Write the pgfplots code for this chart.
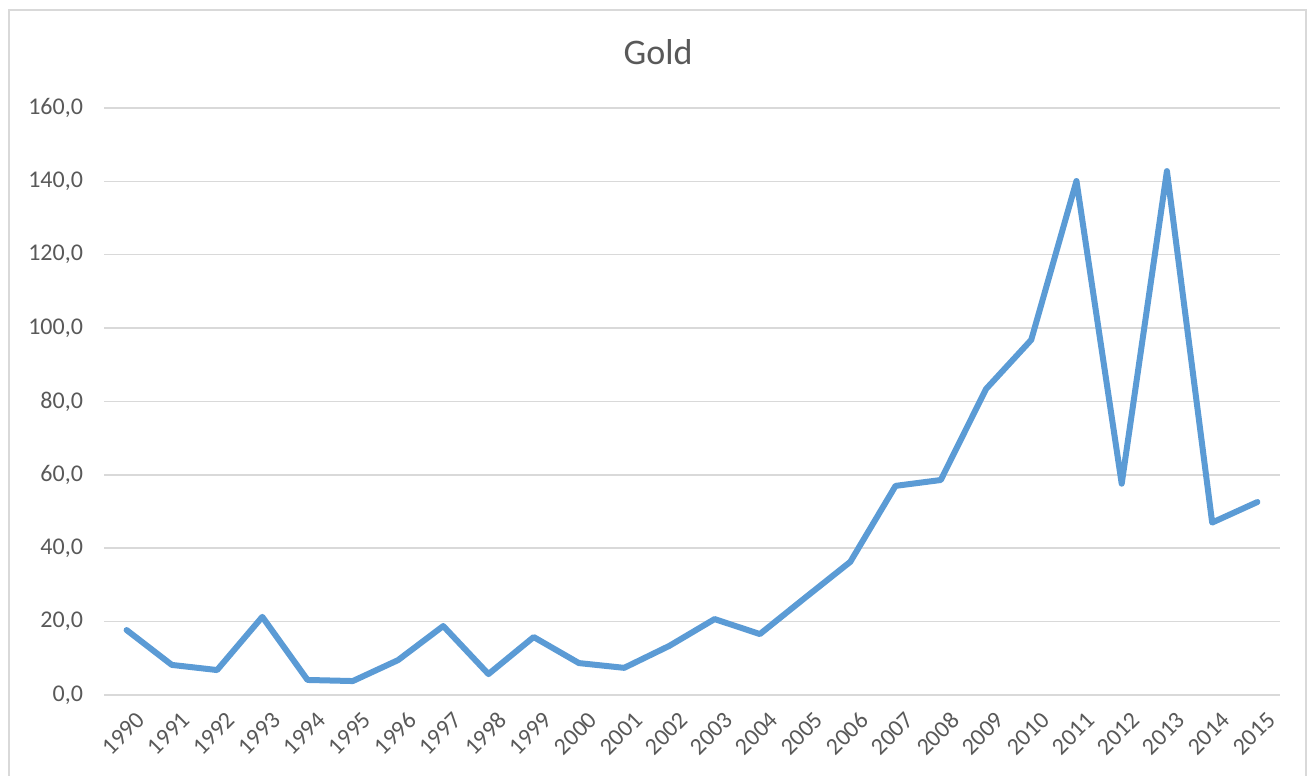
\documentclass[border=0pt]{standalone}
\usepackage{pgfplots}
\pgfplotsset{compat=1.18}
\usepackage{fontspec}
\setmainfont{Carlito}
\definecolor{goldline}{HTML}{5B9BD5}
\definecolor{gridgray}{HTML}{D9D9D9}
\definecolor{txtgray}{HTML}{595959}
\begin{document}
% page is 656pt x 388pt, i.e. 1px of the reference = 0.5pt
\begin{tikzpicture}
\useasboundingbox (0pt,0pt) rectangle (656pt,388pt);
\draw[gridgray,line width=1pt] (4.5pt,0pt) -- (4.5pt,383pt) -- (653pt,383pt) -- (653pt,0pt);
\node[txtgray,font=\fontsize{18}{20}\selectfont] at (329pt,362pt) {Gold};
\begin{axis}[
    at={(52pt,40.5pt)}, anchor=south west,
    scale only axis,
    width=588pt, height=293.5pt,
    xmin=1989.5, xmax=2015.5,
    ymin=0, ymax=160,
    xtick={1990,...,2015},
    ytick={0,20,...,160},
    ymajorgrids,
    grid style={gridgray,line width=0.75pt},
    axis line style={draw=none},
    tick style={draw=none},
    tick label style={txtgray,font=\fontsize{12}{14}\selectfont},
    /pgf/number format/assume math mode=true,
    xticklabel style={rotate=45,anchor=north east,yshift=-5pt,xshift=1pt,/pgf/number format/1000 sep={}},
    yticklabel style={xshift=-7pt,/pgf/number format/.cd,fixed,fixed zerofill,precision=1,use comma},
    clip=false,
]
\addplot[goldline,line width=3pt,line join=round,line cap=round] coordinates {
    (1990,17.7) (1991,8.2) (1992,6.8) (1993,21.3) (1994,4.1) (1995,3.8)
    (1996,9.5) (1997,18.8) (1998,5.7) (1999,15.8) (2000,8.7) (2001,7.4)
    (2002,13.4) (2003,20.7) (2004,16.6) (2005,26.5) (2006,36.3) (2007,57.0)
    (2008,58.6) (2009,83.4) (2010,96.8) (2011,140.1) (2012,57.6) (2013,142.8)
    (2014,47.0) (2015,52.6)
};
\end{axis}
\end{tikzpicture}
\end{document}
